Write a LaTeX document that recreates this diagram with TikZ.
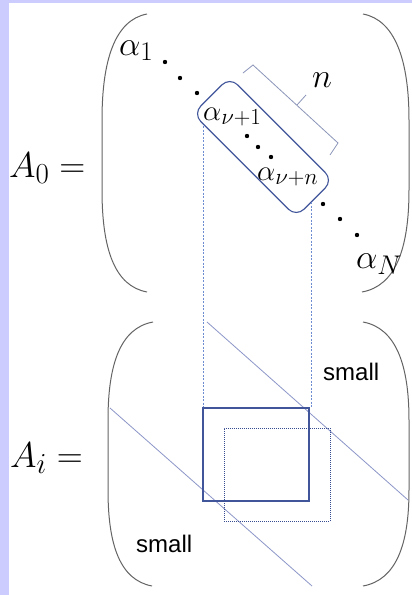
\RequirePackage{fix-cm}
\documentclass[tikz,border=0pt]{standalone}
\usepackage{fontspec}
\newfontfamily\labelsans{Liberation Sans}
\newcommand{\mysub}[2]{\mbox{\fontsize{#1}{#1}\selectfont$#2$}}
\definecolor{lav}{RGB}{204,204,255}
\definecolor{guidecol}{RGB}{110,140,210}
\definecolor{diagcol}{RGB}{140,150,200}
\definecolor{boxcol}{RGB}{65,85,155}
\definecolor{dotboxcol}{RGB}{55,75,145}
\definecolor{bracecol}{RGB}{140,150,185}
\definecolor{bracketcol}{RGB}{100,100,100}
\begin{document}
\begin{tikzpicture}[x=1pt,y=-1pt,
  bracketline/.style={draw=bracketcol, line width=1pt},
  guide/.style={draw=guidecol, line width=0.7pt, dash pattern=on 2pt off 1.5pt},
  diagline/.style={draw=diagcol, line width=0.8pt},
  winbox/.style={draw=boxcol, line width=1.2pt, minimum width=106pt, minimum height=93pt, inner sep=0pt},
  shiftbox/.style={draw=dotboxcol, line width=1pt, densely dotted, minimum width=106pt, minimum height=93pt, inner sep=0pt},
  blockbox/.style={draw=boxcol, line width=1.1pt, rounded corners=11pt, minimum width=146pt, minimum height=52pt, rotate=-45, inner sep=0pt},
  bracebar/.style={draw=bracecol, line width=0.8pt},
  dotmark/.style={circle, fill=black, inner sep=0pt, minimum size=4.4pt},
  biglabel/.style={inner sep=0pt, font=\fontsize{36}{40}\selectfont},
  alphalabel/.style={inner sep=0pt, font=\fontsize{34}{38}\selectfont},
  innerlabel/.style={inner sep=0pt, font=\fontsize{29}{33}\selectfont},
  smalltext/.style={inner sep=0pt, font=\labelsans\fontsize{24}{26}\selectfont}
]
\useasboundingbox (0,0) rectangle (412,595);
\fill[white] (0,0) rectangle (412,595);
\fill[lav] (0,0) rectangle (8.7,595);
\fill[lav] (0,0) rectangle (412,3);

% ---------- top matrix brackets
\draw[bracketline] (147,14) .. controls (115,20) and (102,60) .. (102,120) -- (102,190) .. controls (102,250) and (115,286) .. (147,292);
\draw[bracketline] (363,14) .. controls (395,20) and (409,60) .. (409,120) -- (409,190) .. controls (409,250) and (395,286) .. (362,292);

% ---------- lower matrix brackets
\draw[bracketline] (153,322) .. controls (120,328) and (108,365) .. (108,420) -- (108,490) .. controls (108,545) and (120,580) .. (152,586);
\draw[bracketline] (363,322) .. controls (396,328) and (409,365) .. (409,420) -- (409,490) .. controls (409,545) and (396,580) .. (363,586);

% ---------- labels
\node[biglabel, anchor=base west] (azero) at (9,177) {$A_{\mysub{29}{0}} =$};
\node[biglabel, anchor=base west] (ai) at (10,467) {$A_{\mysub{29}{i}} =$};

\node[alphalabel, anchor=base west] (a1) at (119,55) {$\alpha_{\mysub{27}{1}}$};
\node[innerlabel, anchor=base west] (anu1) at (203,120) {$\alpha_{\mysub{23}{\nu{+}1}}$};
\node[innerlabel, anchor=base west] (anun) at (257,180) {$\alpha_{\mysub{23}{\nu{+}n}}$};
\node[alphalabel, anchor=base west] (aN) at (356,268) {$\alpha_{\mysub{27}{N}}$};
\node[alphalabel, anchor=base] (nlab) at (322,87) {$n$};

% ---------- dots
\node[dotmark] (d1) at (165,62) {};
\node[dotmark] (d2) at (180,78) {};
\node[dotmark] (d3) at (197,93) {};
\node[dotmark] (d4) at (247,136) {};
\node[dotmark] (d5) at (258,147) {};
\node[dotmark] (d6) at (271,157) {};
\node[dotmark] (d7) at (323,204) {};
\node[dotmark] (d8) at (340,219) {};
\node[dotmark] (d9) at (357,235) {};

% ---------- block box
\node[blockbox] (block) at (263,147) {};

% ---------- n bracket
\coordinate (b1) at (243,73);
\coordinate (b2) at (253,65);
\coordinate (b3) at (338,143);
\coordinate (b4) at (330,155);
\coordinate (bm) at (297,105);
\coordinate (bt) at (306,95);
\draw[bracebar] (b1) -- (b2) -- (b3) -- (b4);
\draw[bracebar] (bm) -- (bt);

% ---------- lower matrix content
\draw[diagline] (207,322) -- (408,500);
\draw[diagline] (110,408) -- (312,586);

\node[winbox] (win) at (256,454.5) {};
\node[shiftbox] (shift) at (277,474.5) {};

\coordinate (gl) at (203,126);
\coordinate (gr) at (311,202);
\draw[guide] (gl) -- (gl |- win.north);
\draw[guide] (gr) -- (gr |- win.north);

\node[smalltext, anchor=base west] (s1) at (323,380) {small};
\node[smalltext, anchor=base west] (s2) at (136,552) {small};
\end{tikzpicture}
\end{document}
